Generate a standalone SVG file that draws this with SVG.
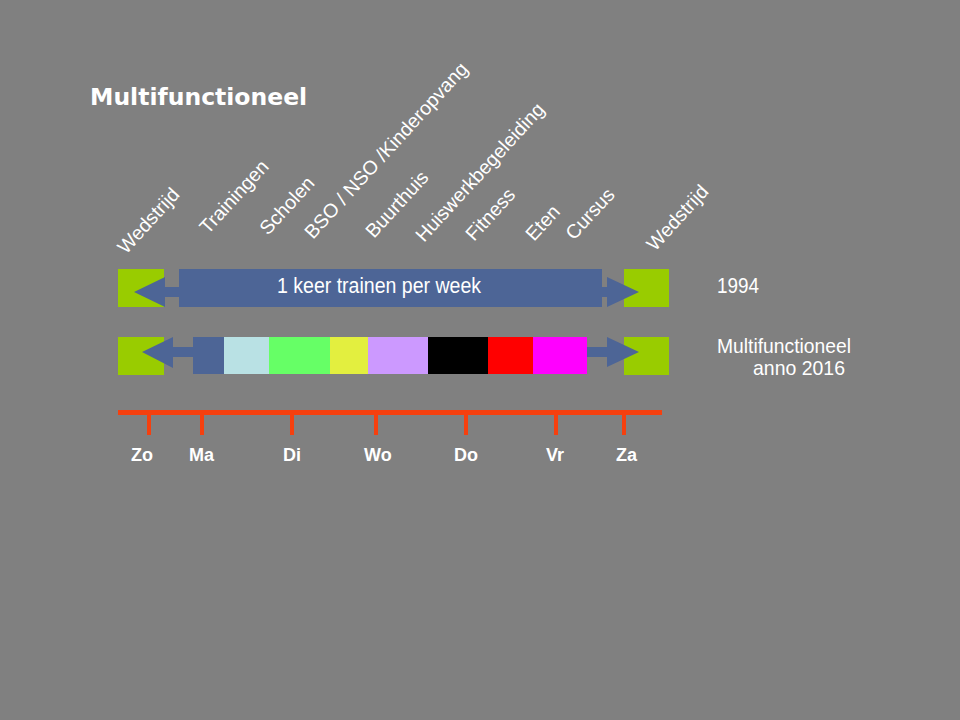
<svg xmlns="http://www.w3.org/2000/svg" width="960" height="720" viewBox="0 0 960 720">
<style>
.bg{fill:#808080}
.green{fill:#99CC00}
.blue{fill:#4D6596}
.lbl{font-family:"Liberation Sans",Arial,sans-serif;font-size:19.5px;fill:#fff}
.nar{font-family:"Liberation Sans",Arial,sans-serif;font-size:22px;fill:#fff}
.nar2{font-family:"Liberation Sans",Arial,sans-serif;font-size:21px;fill:#fff}
.day{font-family:"Liberation Sans",Arial,sans-serif;font-size:18px;font-weight:bold;fill:#fff}
.title{font-family:"DejaVu Sans",Verdana,sans-serif;font-size:23.5px;font-weight:bold;fill:#fff}
.line{fill:#F5400F}
</style>
<rect class="bg" x="0" y="0" width="960" height="720"/>
<g id="title"><text class="title" x="90" y="105">Multifunctioneel</text></g>
<g id="labels">
<text class="lbl" transform="translate(126,255) rotate(-47.5)">Wedstrijd</text>
<text class="lbl" transform="translate(208,235) rotate(-47.5)">Trainingen</text>
<text class="lbl" transform="translate(268,236) rotate(-47.5)">Scholen</text>
<text class="lbl" transform="translate(313,240) rotate(-47.5)">BSO / NSO /Kinderopvang</text>
<text class="lbl" transform="translate(374,239) rotate(-47.5)">Buurthuis</text>
<text class="lbl" transform="translate(424,243) rotate(-47.5)">Huiswerkbegeleiding</text>
<text class="lbl" transform="translate(474,242) rotate(-47.5)">Fitness</text>
<text class="lbl" transform="translate(534,242) rotate(-47.5)">Eten</text>
<text class="lbl" transform="translate(574,241) rotate(-47.5)">Cursus</text>
<text class="lbl" transform="translate(655,252) rotate(-47.5)">Wedstrijd</text>
</g>
<g id="row1994">
<rect class="green" x="118" y="269" width="46" height="38"/>
<rect class="green" x="624" y="269" width="45" height="38"/>
<polygon class="blue" points="134,292 165,277 165,287 607,287 607,277 639,292 607,307 607,297 165,297 165,307"/>
<rect class="blue" x="179" y="269" width="423" height="38"/>
<text class="nar" x="277" y="293" textLength="204" lengthAdjust="spacingAndGlyphs">1 keer trainen per week</text>
<text class="nar" x="717" y="293" textLength="42" lengthAdjust="spacingAndGlyphs">1994</text>
</g>
<g id="row2016">
<rect class="green" x="118" y="337" width="46" height="38"/>
<rect class="green" x="624" y="337" width="45" height="38"/>
<polygon class="blue" points="142,352 173,337 173,347 607,347 607,337 639,352 607,367 607,357 173,357 173,368"/>
<rect class="blue" x="193" y="337" width="31" height="37"/>
<rect fill="#B9E1E4" x="224" y="337" width="45" height="37"/>
<rect fill="#66FF66" x="269" y="337" width="61" height="37"/>
<rect fill="#E3EF3F" x="330" y="337" width="38" height="37"/>
<rect fill="#CC99FF" x="368" y="337" width="60" height="37"/>
<rect fill="#000000" x="428" y="337" width="60" height="37"/>
<rect fill="#FF0000" x="488" y="337" width="45" height="37"/>
<rect fill="#FF00FF" x="533" y="337" width="54" height="37"/>
<text class="nar2" x="717" y="353" textLength="134" lengthAdjust="spacingAndGlyphs">Multifunctioneel</text>
<text class="nar2" x="753" y="375" textLength="92" lengthAdjust="spacingAndGlyphs">anno 2016</text>
</g>
<g id="timeline">
<rect class="line" x="118" y="410" width="544" height="5"/>
<rect class="line" x="147" y="410" width="4" height="25"/>
<rect class="line" x="200" y="410" width="4" height="25"/>
<rect class="line" x="290" y="410" width="4" height="25"/>
<rect class="line" x="374" y="410" width="4" height="25"/>
<rect class="line" x="464" y="410" width="4" height="25"/>
<rect class="line" x="554" y="410" width="4" height="25"/>
<rect class="line" x="622" y="410" width="4" height="25"/>
<text class="day" x="131" y="461">Zo</text>
<text class="day" x="189" y="461">Ma</text>
<text class="day" x="283" y="461">Di</text>
<text class="day" x="364" y="461">Wo</text>
<text class="day" x="454" y="461">Do</text>
<text class="day" x="546" y="461">Vr</text>
<text class="day" x="616" y="461">Za</text>
</g>
</svg>
